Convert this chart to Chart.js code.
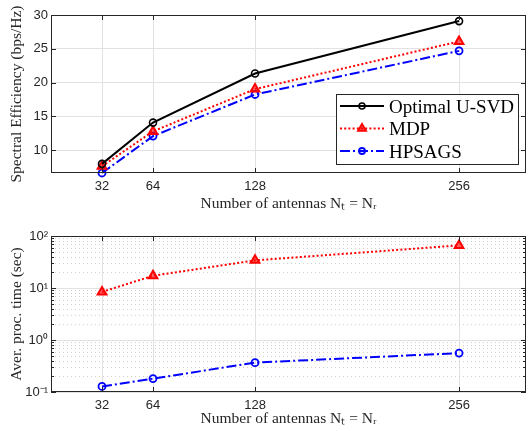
<!DOCTYPE html>
<html><head><meta charset="utf-8">
<script src="https://cdn.jsdelivr.net/npm/chart.js@4.4.1/dist/chart.umd.min.js"></script>
<style>
html,body{margin:0;padding:0;background:#fff;}
#wrap{position:relative;width:528px;height:431px;overflow:hidden;background:#fff;}
canvas{position:absolute;left:0;}
</style></head><body>
<div id="wrap">
<canvas id="c1" width="528" height="215" style="top:0"></canvas>
<canvas id="c2" width="528" height="216" style="top:215px"></canvas>
</div>
<script>
// ---- data ----
const antennas = [32, 64, 128, 256];
const xTicks = [32, 64, 128, 256];
const seOptimal = [8.0, 14.1, 21.35, 29.1];
const seMDP = [7.65, 12.8, 19.05, 26.1];
const seHPSAGS = [6.65, 12.1, 18.25, 24.7];
const seTicks = [10, 15, 20, 25, 30];
const timeMDP = [8.4, 17.2, 34, 66];
const timeHPSAGS = [0.128, 0.181, 0.367, 0.56];
const timeTicks = [0.1, 1, 10, 100];
const timeTickLabels = ['10\u207B\u00B9', '10\u2070', '10\u00B9', '10\u00B2'];
const seriesNames = ['Optimal U-SVD', 'MDP', 'HPSAGS'];
const xTitle = 'Number of antennas N\u209C = N\u1D63';
const yTitleTop = 'Spectral Efficiency (bps/Hz)';
const yTitleBottom = 'Aver. proc. time (sec)';

// ---- styles ----
const AX = '#262626';
const GRID = '#e2e2e2';
const TICKFONT = {family: "'Liberation Sans', Arial, Helvetica, sans-serif", size: 13};
const TITLEFONT = {family: "'Liberation Serif', 'Times New Roman', serif", size: 15.5};
const styles = {
  opt: {borderColor: '#000', borderWidth: 2, borderDash: [], pointStyle: 'circle', pointRadius: 3.5, pointBorderWidth: 1.6, pointBackgroundColor: 'rgba(0,0,0,0)'},
  mdp: {borderColor: '#ff0000', borderWidth: 2, borderDash: [2, 2.2], pointStyle: 'triangle', pointRadius: 5, pointBorderWidth: 2, pointBackgroundColor: 'rgba(255,0,0,0.6)'},
  hps: {borderColor: '#0000ff', borderWidth: 2, borderDash: [10, 3, 2, 3], pointStyle: 'circle', pointRadius: 3.5, pointBorderWidth: 1.8, pointBackgroundColor: 'rgba(0,0,0,0)'}
};
function ds(label, data, st) {
  return Object.assign({label, data: antennas.map((x, i) => ({x, y: data[i]})),
    pointBorderColor: st.borderColor, pointHoverRadius: st.pointRadius, tension: 0, fill: false, clip: false}, st);
}

// ---- plugins ----
const boxPlugin = {
  id: 'matlabBox',
  beforeDatasetsDraw(chart, args, opts) {
    if (!opts.logMinor) return;
    const {ctx, chartArea: a, scales: {y}} = chart;
    ctx.save();
    ctx.strokeStyle = '#d0d0d0'; ctx.lineWidth = 1; ctx.setLineDash([1, 3]);
    ctx.beginPath();
    for (let d = y.min; d < y.max * 0.999; d *= 10) {
      for (let k = 2; k <= 9; k++) {
        const py = Math.round(y.getPixelForValue(k * d)) + 0.5;
        ctx.moveTo(a.left, py); ctx.lineTo(a.right, py);
      }
    }
    ctx.stroke();
    ctx.restore();
  },
  afterDatasetsDraw(chart, args, opts) {
    const {ctx, chartArea: a, scales: {x, y}} = chart;
    ctx.save();
    ctx.strokeStyle = AX; ctx.lineWidth = 1; ctx.setLineDash([]);
    ctx.beginPath();
    x.ticks.forEach(t => {
      const px = Math.round(x.getPixelForValue(t.value)) + 0.5;
      ctx.moveTo(px, a.bottom); ctx.lineTo(px, a.bottom - 5);
      ctx.moveTo(px, a.top); ctx.lineTo(px, a.top + 5);
    });
    y.ticks.forEach(t => {
      const py = Math.round(y.getPixelForValue(t.value)) + 0.5;
      ctx.moveTo(a.left, py); ctx.lineTo(a.left + 5, py);
      ctx.moveTo(a.right, py); ctx.lineTo(a.right - 5, py);
    });
    if (opts.logMinor) {
      for (let d = y.min; d < y.max * 0.999; d *= 10) {
        for (let k = 2; k <= 9; k++) {
          const py = Math.round(y.getPixelForValue(k * d)) + 0.5;
          ctx.moveTo(a.left, py); ctx.lineTo(a.left + 3, py);
          ctx.moveTo(a.right, py); ctx.lineTo(a.right - 3, py);
        }
      }
    }
    ctx.stroke();
    ctx.strokeRect(Math.round(a.left) + 0.5, Math.round(a.top) + 0.5,
      Math.round(a.right - a.left) - 1, Math.round(a.bottom - a.top) - 1);
    ctx.restore();
  },
  afterDraw(chart, args, opts) {
    const lg = opts.legend;
    if (!lg) return;
    const ctx = chart.ctx;
    ctx.save();
    ctx.fillStyle = '#fff';
    ctx.fillRect(lg.left, lg.top, lg.width, lg.height);
    ctx.strokeStyle = AX; ctx.lineWidth = 1; ctx.setLineDash([]);
    ctx.strokeRect(lg.left + 0.5, lg.top + 0.5, lg.width, lg.height);
    chart.data.datasets.forEach((d, i) => {
      const ry = lg.rows[i];
      ctx.strokeStyle = d.borderColor; ctx.lineWidth = d.borderWidth;
      ctx.setLineDash(d.borderDash || []);
      ctx.beginPath(); ctx.moveTo(lg.lineX0, ry); ctx.lineTo(lg.lineX1, ry); ctx.stroke();
      ctx.setLineDash([]);
      ctx.fillStyle = d.pointBackgroundColor; ctx.strokeStyle = d.borderColor;
      ctx.lineWidth = d.pointBorderWidth;
      Chart.helpers.drawPoint(ctx, {pointStyle: d.pointStyle, radius: d.pointRadius - 0.5, borderWidth: d.pointBorderWidth, rotation: 0}, (lg.lineX0 + lg.lineX1) / 2, ry);
      ctx.fillStyle = '#000';
      ctx.font = lg.font;
      ctx.textBaseline = 'alphabetic'; ctx.textAlign = 'left';
      ctx.fillText(d.label, lg.textX, ry + 6.5);
    });
    ctx.restore();
  }
};

function xScale(height, pad) {
  return {
    type: 'linear', min: 0, max: 298,
    afterBuildTicks: s => { s.ticks = xTicks.map(v => ({value: v})); },
    afterFit: s => { s.height = height; s.paddingLeft = 0; s.paddingRight = 0; },
    grid: {color: GRID, drawTicks: false, lineWidth: 1},
    border: {display: false},
    ticks: {font: TICKFONT, color: AX, padding: 6, maxRotation: 0, autoSkip: false},
    title: {display: true, text: xTitle, font: TITLEFONT, color: AX, padding: {top: 0, bottom: pad}}
  };
}
function yFit(s) { s.width = 51; s.paddingTop = 0; s.paddingBottom = 0; }

new Chart(document.getElementById('c1'), {
  type: 'line',
  data: {datasets: [ds(seriesNames[0], seOptimal, styles.opt), ds(seriesNames[1], seMDP, styles.mdp), ds(seriesNames[2], seHPSAGS, styles.hps)]},
  options: {
    responsive: false, animation: false, events: [],
    layout: {autoPadding: false, padding: {left: 0, right: 2, top: 15, bottom: 0}},
    plugins: {legend: {display: false}, tooltip: {enabled: false},
      matlabBox: {legend: {left: 336, top: 94, width: 182, height: 70, rows: [106, 128.5, 151],
        lineX0: 340, lineX1: 384, textX: 389, font: "19px 'Liberation Serif', 'Times New Roman', serif"}}},
    scales: {
      x: xScale(42, 2),
      y: {
        type: 'linear', min: 6.65, max: 30,
        afterBuildTicks: s => { s.ticks = seTicks.map(v => ({value: v})); },
        afterFit: yFit,
        grid: {color: GRID, drawTicks: false},
        border: {display: false},
        ticks: {font: TICKFONT, color: AX, padding: 3},
        title: {display: true, text: yTitleTop, font: TITLEFONT, color: AX, padding: {top: 8, bottom: 0}}
      }
    }
  },
  plugins: [boxPlugin]
});

new Chart(document.getElementById('c2'), {
  type: 'line',
  data: {datasets: [ds(seriesNames[1], timeMDP, styles.mdp), ds(seriesNames[2], timeHPSAGS, styles.hps)]},
  options: {
    responsive: false, animation: false, events: [],
    layout: {autoPadding: false, padding: {left: 0, right: 2, top: 21, bottom: 0}},
    plugins: {legend: {display: false}, tooltip: {enabled: false}, matlabBox: {logMinor: true}},
    scales: {
      x: xScale(39, 3),
      y: {
        type: 'logarithmic', min: 0.1, max: 100,
        afterBuildTicks: s => { s.ticks = timeTicks.map(v => ({value: v})); },
        afterFit: yFit,
        grid: {color: GRID, drawTicks: false},
        border: {display: false},
        ticks: {font: TICKFONT, color: AX, padding: 3, autoSkip: false,
          callback: (v, i) => timeTickLabels[i]},
        title: {display: true, text: yTitleBottom, font: TITLEFONT, color: AX, padding: {top: 8, bottom: 0}}
      }
    }
  },
  plugins: [boxPlugin]
});
</script>
</body></html>
